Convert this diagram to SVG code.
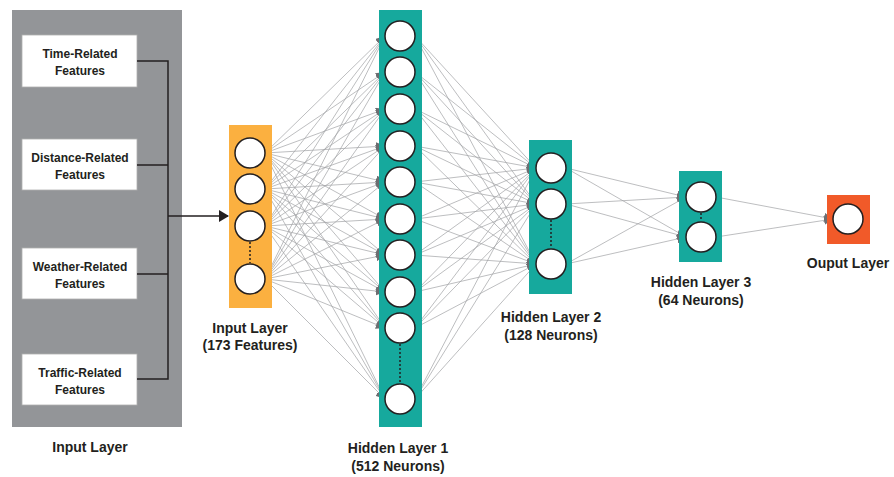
<svg xmlns="http://www.w3.org/2000/svg" width="894" height="477" viewBox="0 0 894 477">
<style>
text{font-family:"Liberation Sans",Arial,sans-serif;font-weight:bold;fill:#231f20;text-anchor:middle}
.bt{font-size:12px}
.lt{font-size:14px}
.fb{fill:#fff;stroke:#b0b0b0;stroke-width:0.8}
.tree{fill:none;stroke:#231f20;stroke-width:1.5}
.c{fill:#fff;stroke:#231f20;stroke-width:1.5}
.dot{stroke:#231f20;stroke-width:1.5;stroke-dasharray:2,2}
.cn line{stroke:#a0a2a5;stroke-width:0.7;marker-end:url(#ah)}
</style>
<defs>
<marker id="ah" markerUnits="userSpaceOnUse" markerWidth="10" markerHeight="9" refX="9" refY="4.5" orient="auto">
<path d="M0,0 L9,4.5 L0,9 z" fill="#6d6e71"/>
</marker>
<marker id="blk" markerUnits="userSpaceOnUse" markerWidth="10" markerHeight="12" refX="9" refY="6" orient="auto">
<path d="M0,0 L10,6 L0,12 z" fill="#231f20"/>
</marker>
</defs>
<rect width="894" height="477" fill="#fff"/>

<g id="input-features">
<rect x="12" y="10" width="170" height="417" fill="#939598"/>
<g id="time"><rect class="fb" x="22" y="35" width="115" height="52"/><text class="bt" x="80" y="58">Time-Related</text><text class="bt" x="80" y="75">Features</text></g>
<g id="distance"><rect class="fb" x="22" y="139" width="115" height="51"/><text class="bt" x="80" y="162">Distance-Related</text><text class="bt" x="80" y="179">Features</text></g>
<g id="weather"><rect class="fb" x="22" y="248" width="115" height="51"/><text class="bt" x="80" y="271">Weather-Related</text><text class="bt" x="80" y="288">Features</text></g>
<g id="traffic"><rect class="fb" x="22" y="354" width="115" height="51"/><text class="bt" x="80" y="377">Traffic-Related</text><text class="bt" x="80" y="394">Features</text></g>
<text class="lt" x="90" y="452">Input Layer</text>
</g>

<g id="tree-connectors">
<polyline class="tree" points="137,61 168,61 168,379 137,379"/>
<line class="tree" x1="137" y1="165" x2="168" y2="165"/>
<line class="tree" x1="137" y1="274" x2="168" y2="274"/>
<line class="tree" x1="168" y1="216" x2="228" y2="216" marker-end="url(#blk)"/>
</g>

<g id="connectors" class="cn">
<line x1="265" y1="153" x2="385" y2="36"/><line x1="265" y1="153" x2="385" y2="72"/><line x1="265" y1="153" x2="385" y2="109"/><line x1="265" y1="153" x2="385" y2="146"/><line x1="265" y1="153" x2="385" y2="182"/><line x1="265" y1="153" x2="385" y2="219"/><line x1="265" y1="153" x2="385" y2="255"/><line x1="265" y1="153" x2="385" y2="292"/><line x1="265" y1="153" x2="385" y2="328"/><line x1="265" y1="153" x2="385" y2="399"/>
<line x1="265" y1="189" x2="385" y2="36"/><line x1="265" y1="189" x2="385" y2="72"/><line x1="265" y1="189" x2="385" y2="109"/><line x1="265" y1="189" x2="385" y2="146"/><line x1="265" y1="189" x2="385" y2="182"/><line x1="265" y1="189" x2="385" y2="219"/><line x1="265" y1="189" x2="385" y2="255"/><line x1="265" y1="189" x2="385" y2="292"/><line x1="265" y1="189" x2="385" y2="328"/><line x1="265" y1="189" x2="385" y2="399"/>
<line x1="265" y1="226" x2="385" y2="36"/><line x1="265" y1="226" x2="385" y2="72"/><line x1="265" y1="226" x2="385" y2="109"/><line x1="265" y1="226" x2="385" y2="146"/><line x1="265" y1="226" x2="385" y2="182"/><line x1="265" y1="226" x2="385" y2="219"/><line x1="265" y1="226" x2="385" y2="255"/><line x1="265" y1="226" x2="385" y2="292"/><line x1="265" y1="226" x2="385" y2="328"/><line x1="265" y1="226" x2="385" y2="399"/>
<line x1="265" y1="279" x2="385" y2="36"/><line x1="265" y1="279" x2="385" y2="72"/><line x1="265" y1="279" x2="385" y2="109"/><line x1="265" y1="279" x2="385" y2="146"/><line x1="265" y1="279" x2="385" y2="182"/><line x1="265" y1="279" x2="385" y2="219"/><line x1="265" y1="279" x2="385" y2="255"/><line x1="265" y1="279" x2="385" y2="292"/><line x1="265" y1="279" x2="385" y2="328"/><line x1="265" y1="279" x2="385" y2="399"/>
<line x1="415" y1="36" x2="536" y2="168"/><line x1="415" y1="36" x2="536" y2="204"/><line x1="415" y1="36" x2="536" y2="264"/>
<line x1="415" y1="72" x2="536" y2="168"/><line x1="415" y1="72" x2="536" y2="204"/><line x1="415" y1="72" x2="536" y2="264"/>
<line x1="415" y1="109" x2="536" y2="168"/><line x1="415" y1="109" x2="536" y2="204"/><line x1="415" y1="109" x2="536" y2="264"/>
<line x1="415" y1="146" x2="536" y2="168"/><line x1="415" y1="146" x2="536" y2="204"/><line x1="415" y1="146" x2="536" y2="264"/>
<line x1="415" y1="182" x2="536" y2="168"/><line x1="415" y1="182" x2="536" y2="204"/><line x1="415" y1="182" x2="536" y2="264"/>
<line x1="415" y1="219" x2="536" y2="168"/><line x1="415" y1="219" x2="536" y2="204"/><line x1="415" y1="219" x2="536" y2="264"/>
<line x1="415" y1="255" x2="536" y2="168"/><line x1="415" y1="255" x2="536" y2="204"/><line x1="415" y1="255" x2="536" y2="264"/>
<line x1="415" y1="292" x2="536" y2="168"/><line x1="415" y1="292" x2="536" y2="204"/><line x1="415" y1="292" x2="536" y2="264"/>
<line x1="415" y1="328" x2="536" y2="168"/><line x1="415" y1="328" x2="536" y2="204"/><line x1="415" y1="328" x2="536" y2="264"/>
<line x1="415" y1="399" x2="536" y2="168"/><line x1="415" y1="399" x2="536" y2="204"/><line x1="415" y1="399" x2="536" y2="264"/>
<line x1="566" y1="168" x2="686" y2="197"/><line x1="566" y1="168" x2="686" y2="237"/>
<line x1="566" y1="204" x2="686" y2="197"/><line x1="566" y1="204" x2="686" y2="237"/>
<line x1="566" y1="264" x2="686" y2="197"/><line x1="566" y1="264" x2="686" y2="237"/>
<line x1="716" y1="197" x2="833" y2="219"/><line x1="716" y1="237" x2="833" y2="219"/>
</g>

<g id="input-layer">
<rect x="229" y="125" width="43" height="183" fill="#fbb040"/>
<circle class="c" cx="250" cy="153" r="15"/><circle class="c" cx="250" cy="189" r="15"/><circle class="c" cx="250" cy="226" r="15"/><circle class="c" cx="250" cy="279" r="15"/>
<line class="dot" x1="250" y1="242" x2="250" y2="263"/>
<text class="lt" x="250" y="333">Input Layer</text><text class="lt" x="250" y="350">(173 Features)</text>
</g>

<g id="hidden-layer-1">
<rect x="379" y="10" width="43" height="417" fill="#16a99d"/>
<circle class="c" cx="400" cy="36" r="15"/><circle class="c" cx="400" cy="72" r="15"/><circle class="c" cx="400" cy="109" r="15"/><circle class="c" cx="400" cy="146" r="15"/><circle class="c" cx="400" cy="182" r="15"/><circle class="c" cx="400" cy="219" r="15"/><circle class="c" cx="400" cy="255" r="15"/><circle class="c" cx="400" cy="292" r="15"/><circle class="c" cx="400" cy="328" r="15"/><circle class="c" cx="400" cy="399" r="15"/>
<line class="dot" x1="400" y1="344" x2="400" y2="383"/>
<text class="lt" x="398" y="453">Hidden Layer 1</text><text class="lt" x="398" y="471">(512 Neurons)</text>
</g>

<g id="hidden-layer-2">
<rect x="529" y="140" width="43" height="154" fill="#16a99d"/>
<circle class="c" cx="551" cy="168" r="15"/><circle class="c" cx="551" cy="204" r="15"/><circle class="c" cx="551" cy="264" r="15"/>
<line class="dot" x1="551" y1="220" x2="551" y2="248"/>
<text class="lt" x="551" y="322">Hidden Layer 2</text><text class="lt" x="551" y="340">(128 Neurons)</text>
</g>

<g id="hidden-layer-3">
<rect x="679" y="171" width="43" height="91" fill="#16a99d"/>
<circle class="c" cx="701" cy="197" r="15"/><circle class="c" cx="701" cy="237" r="15"/>
<line class="dot" x1="701" y1="213" x2="701" y2="221"/>
<text class="lt" x="701" y="287">Hidden Layer 3</text><text class="lt" x="701" y="305">(64 Neurons)</text>
</g>

<g id="output-layer">
<rect x="827" y="195" width="43" height="49" fill="#f15a29"/>
<circle class="c" cx="848" cy="219" r="15"/>
<text class="lt" x="848" y="268">Ouput Layer</text>
</g>
</svg>
